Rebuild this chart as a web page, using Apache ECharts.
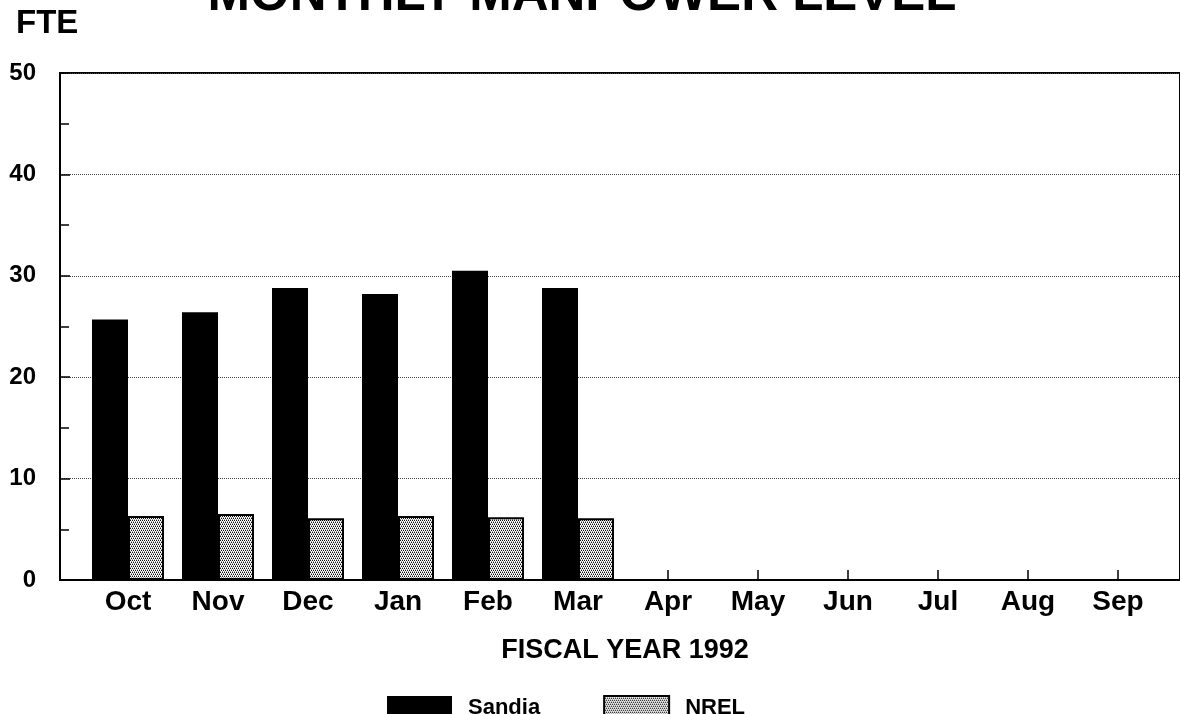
<!DOCTYPE html>
<html><head><meta charset="utf-8">
<script src="https://cdn.jsdelivr.net/npm/echarts@6/dist/echarts.min.js"></script>
<style>html,body{margin:0;padding:0;background:#fff}#c{width:1180px;height:714px}</style>
</head><body><div id="c"></div>
<script>
const months = ['Oct','Nov','Dec','Jan','Feb','Mar','Apr','May','Jun','Jul','Aug','Sep'];
const sandia = [25.7, 26.4, 28.8, 28.2, 30.5, 28.8, null, null, null, null, null, null];
const nrel = [6.3, 6.5, 6.1, 6.3, 6.2, 6.1, null, null, null, null, null, null];
const yTicks = [0, 10, 20, 30, 40, 50];

const pc = document.createElement('canvas');
pc.width = 4; pc.height = 4;
const px = pc.getContext('2d');
px.fillStyle = '#fff'; px.fillRect(0,0,4,4);
px.fillStyle = '#111';
[[0,0],[2,0],[1,2],[3,2]].forEach(p=>px.fillRect(p[0],p[1],1,1));
px.fillStyle = '#999';
[[1,1],[3,1],[0,3],[2,3]].forEach(p=>px.fillRect(p[0],p[1],1,1));
const stipple = {image: pc, repeat: 'repeat'};

const font = '"Liberation Sans", Arial, sans-serif';
const chart = echarts.init(document.getElementById('c'));
chart.setOption({
  animation: false,
  backgroundColor: '#fff',
  title: [
    {text: 'MONTHLY MANPOWER LEVEL', left: 577, textAlign: 'center', top: -35,
     textStyle: {fontFamily: font, fontSize: 51, fontWeight: 'bold', color: '#000'}},
    {text: 'FTE', left: 11, top: 2, textStyle: {fontFamily: font, fontSize: 33, fontWeight: 'bold', color: '#000'}},
    {text: 'FISCAL YEAR 1992', left: 620, textAlign: 'center', top: 632,
     textStyle: {fontFamily: font, fontSize: 27, fontWeight: 'bold', color: '#000'}}
  ],
  legend: {
    left: 382, top: 690, itemWidth: 65, itemHeight: 23, itemGap: 63,
    icon: 'rect',
    textStyle: {fontFamily: font, fontSize: 22, fontWeight: 'bold', color: '#000', padding: [0,0,0,11]},
    data: ['Sandia', 'NREL']
  },
  grid: [
    {left: 60, right: -10, top: 73, bottom: 134, show: true, borderColor: '#000', borderWidth: 2, backgroundColor: 'transparent'},
    {left: 83, width: 1080, top: 73, bottom: 134}
  ],
  xAxis: [
    {gridIndex: 0, type: 'category', data: months, axisLine: {show: true, lineStyle: {color: '#000', width: 2}},
     axisTick: {show: false}, axisLabel: {show: false}},
    {gridIndex: 1, type: 'category', data: months, axisLine: {show: false},
     axisTick: {show: true, alignWithLabel: true, inside: true, length: 10, interval: (i) => i >= 6,
       lineStyle: {color: '#000', width: 1.5}},
     axisLabel: {fontFamily: font, fontSize: 28, fontWeight: 'bold', color: '#000', margin: 8}}
  ],
  yAxis: [
    {gridIndex: 0, type: 'value', min: 0, max: 50, interval: 10,
     axisLine: {show: true, lineStyle: {color: '#000', width: 2}},
     axisTick: {show: true, inside: true, length: 10, lineStyle: {color: '#000', width: 1.5}},
     minorTick: {show: true, splitNumber: 2, length: 9, lineStyle: {color: '#000', width: 1.5}},
     splitLine: {show: true, lineStyle: {color: '#444', type: 'dotted', width: 1}},
     axisLabel: {fontFamily: font, fontSize: 24, fontWeight: 'bold', color: '#000', margin: 24,
       formatter: v => yTicks.indexOf(v) >= 0 ? String(v) : ''}},
    {gridIndex: 1, type: 'value', min: 0, max: 50, show: false, splitLine: {show: false}}
  ],
  series: [
    {name: 'Sandia', type: 'bar', xAxisIndex: 1, yAxisIndex: 1, data: sandia, barWidth: 36, barGap: '0%',
     itemStyle: {color: '#000'}},
    {name: 'NREL', type: 'bar', xAxisIndex: 1, yAxisIndex: 1, data: nrel, barWidth: 36, barGap: '0%',
     itemStyle: {color: stipple, borderColor: '#000', borderWidth: 2}}
  ]
});
</script></body></html>
